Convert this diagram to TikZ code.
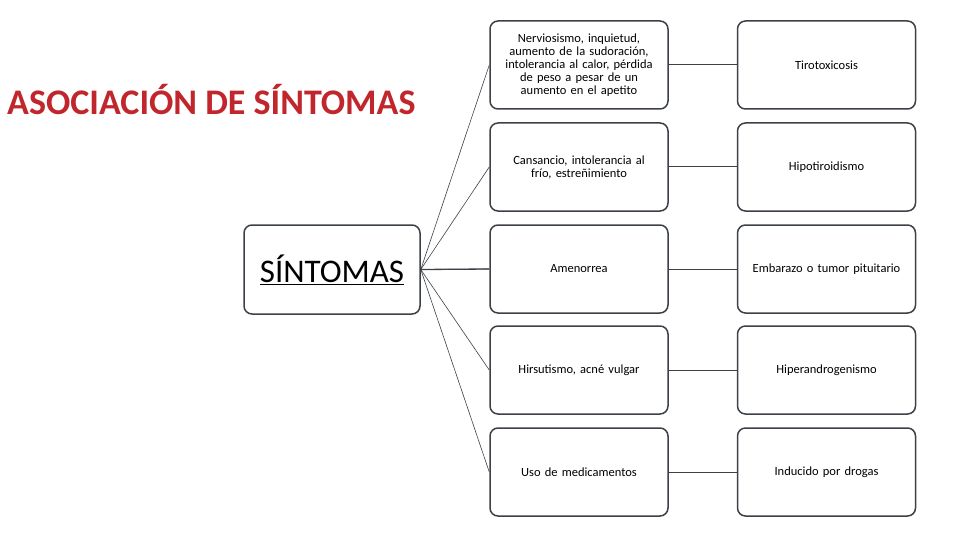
\documentclass[tikz,border=0pt]{standalone}
\usepackage{fontspec}
\setmainfont{Carlito}
\begin{document}
\begin{tikzpicture}[x=1pt,y=-1pt,
 box/.style={draw=bd,line width=1.5pt,rounded corners=8pt,minimum width=178pt,minimum height=88pt,align=center},
 bx/.style={box,text width=170pt,font=\fontsize{12.5}{13}\selectfont},
 ln/.style={draw=bd,line width=0.5pt}]
\definecolor{bd}{HTML}{3C4147}
\definecolor{tr}{HTML}{C0262B}
\useasboundingbox (0,0) rectangle (960,540);
\node[anchor=west,text=tr,font=\bfseries\fontsize{36}{37}\selectfont,inner sep=0] (t) at (7,100) {ASOCIACIÓN DE SÍNTOMAS};
\node[box,minimum width=176pt,minimum height=89pt,font=\fontsize{33}{34}\selectfont] (s) at (332,269.5) {\underline{SÍNTOMAS}};
\foreach \i/\y/\a/\b in {
 1/65/{Nerviosismo, inquietud,\\aumento de la sudoración,\\intolerancia al calor, pérdida\\de peso a pesar de un\\aumento en el apetito}/Tirotoxicosis,
 2/167/{Cansancio, intolerancia al\\frío, estreñimiento}/Hipotiroidismo,
 3/269/Amenorrea/Embarazo o tumor pituitario,
 4/370/{Hirsutismo, acné vulgar}/Hiperandrogenismo,
 5/472/Uso de medicamentos/Inducido por drogas}{
 \node[bx] (a\i) at (579,\y) {\a};
 \node[bx] (b\i) at (826.5,\y) {\b};
 \draw[ln,line width=1pt] (a\i) -- (b\i);
 \draw[ln,line width=0.6pt] (s.east) -- (a\i.west);
}
\draw[ln,line width=1.3pt] (s.east) -- (a3.west);
\end{tikzpicture}
\end{document}
